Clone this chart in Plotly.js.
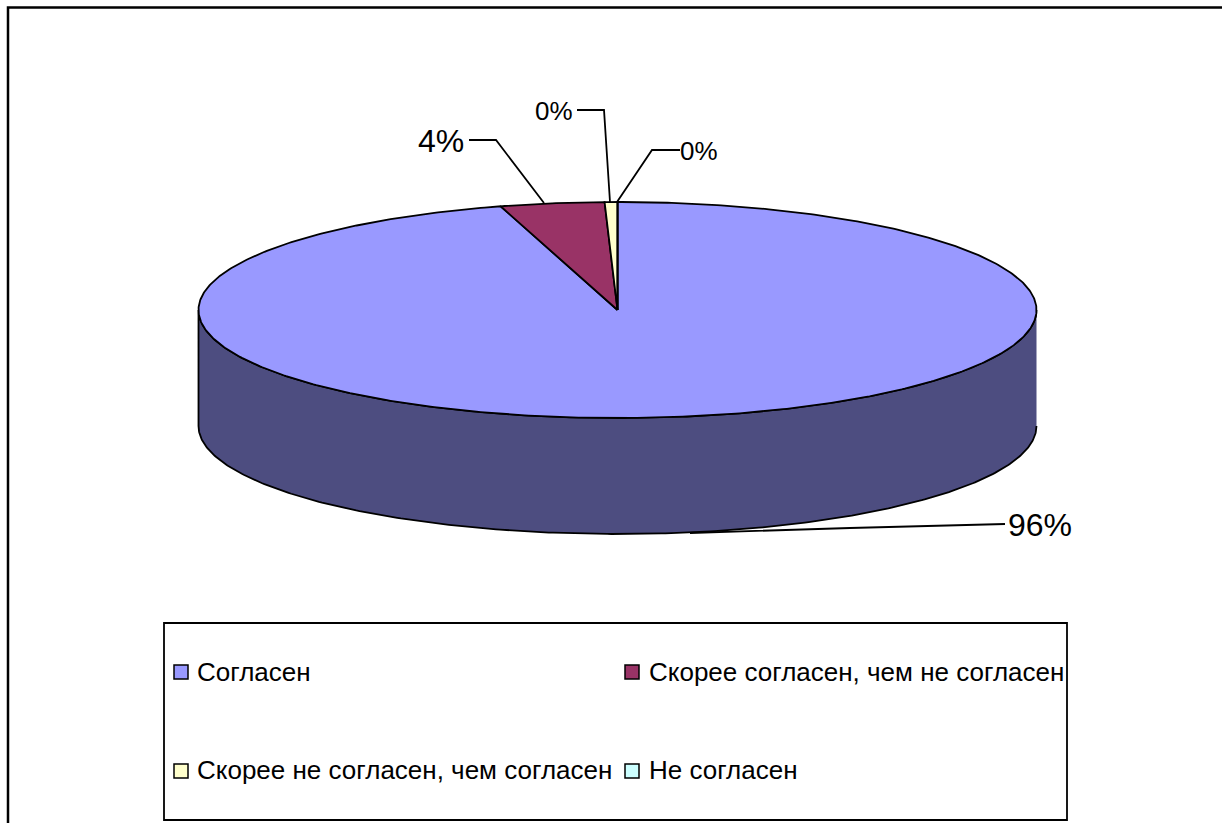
<!DOCTYPE html>
<html>
<head>
<meta charset="utf-8">
<script src="https://cdn.plot.ly/plotly-3.0.1.min.js"></script>
<style>html,body{margin:0;padding:0;background:#fff;overflow:hidden}#chart{width:1222px;height:823px}</style>
</head>
<body>
<div id="chart"></div>
<script>
// Data
const categories = ['Согласен', 'Скорее согласен, чем не согласен', 'Скорее не согласен, чем согласен', 'Не согласен'];
const shares = [95.5, 4.01, 0.49, 0];
const sliceColors = ['#9999FF', '#993366', '#FFFFCC', '#CCFFFF'];
const sideColor = '#4D4D80';

// Geometry of the projected disc
const W = 1222, H = 823;
const cx = 617.5, cy = 310, rx = 419, ry = 108, depth = 116;
const FONT = '"Liberation Sans", Arial, sans-serif';
const total = shares.reduce((a, b) => a + b, 0);
const px = a => cx + rx * Math.sin(a);
const py = (a, dz) => cy - ry * Math.cos(a) + (dz || 0);

// Slices run clockwise from 12 o'clock
const bounds = [0];
shares.forEach(v => bounds.push(bounds[bounds.length - 1] + v / total * 2 * Math.PI));

function arc(a0, a1, dz) {
  const n = Math.max(2, Math.ceil(Math.abs(a1 - a0) / 0.01));
  const xs = [], ys = [];
  for (let i = 0; i <= n; i++) {
    const a = a0 + (a1 - a0) * i / n;
    xs.push(px(a)); ys.push(py(a, dz));
  }
  return [xs, ys];
}

const lineStyle = {color: '#000', width: 1.8, shape: 'linear'};
const traces = [];

// Visible front wall of the first slice
const [frontX, frontY] = arc(Math.PI / 2, 3 * Math.PI / 2, depth);
const [topX, topY] = arc(3 * Math.PI / 2, Math.PI / 2, 0);
traces.push({
  x: frontX.concat(topX), y: frontY.concat(topY), type: 'scatter', mode: 'lines',
  fill: 'toself', fillcolor: sideColor, line: lineStyle, hoverinfo: 'skip', showlegend: false
});

// Top faces
shares.forEach((v, i) => {
  const [ax, ay] = arc(bounds[i], bounds[i + 1], 0);
  traces.push({
    x: [cx].concat(ax, [cx]), y: [cy].concat(ay, [cy]), type: 'scatter', mode: 'lines',
    fill: 'toself', fillcolor: sliceColors[i], line: lineStyle,
    name: categories[i], text: categories[i], hoverinfo: 'text', showlegend: false
  });
});

// Key: swatch and label per category
const keyCols = [181, 632], keyRows = [672, 771], keyTextRows = [672, 770], keyTextCols = [197, 649];
const keyNotes = [];
categories.forEach((c, i) => {
  const col = i % 2, row = Math.floor(i / 2);
  traces.push({
    x: [keyCols[col]], y: [keyRows[row]], type: 'scatter', mode: 'markers',
    marker: {symbol: 'square', size: 14, color: sliceColors[i], line: {color: '#000', width: 1.5}},
    hoverinfo: 'skip', showlegend: false
  });
  keyNotes.push({
    x: keyTextCols[col], y: keyTextRows[row], xref: 'x', yref: 'y', showarrow: false,
    text: c, xanchor: 'left', yanchor: 'middle', xshift: -2,
    font: {family: FONT, size: 26, color: '#000'}
  });
});

// Data labels and their leader lines: placement only; the text comes from the shares
const labelPlaces = [
  {tx: 1040, ty: 525, size: 32, path: 'M 690 533 L 850 528 L 1005 524'},
  {tx: 441, ty: 141, size: 32, path: 'M 469 140 L 496 140 L 544 203'},
  {tx: 554, ty: 111, size: 26, path: 'M 577 110 L 604 110 L 610 202'},
  {tx: 699, ty: 151, size: 26, path: 'M 680 150 L 652 150 L 617 202'}
];
const annotations = labelPlaces.map((p, i) => ({
  x: p.tx, y: p.ty, xref: 'x', yref: 'y', showarrow: false,
  text: Math.round(shares[i]) + '%', xanchor: 'center', yanchor: 'middle',
  font: {family: FONT, size: p.size, color: '#000'}
})).concat(keyNotes);
const shapes = labelPlaces.map(p => ({
  type: 'path', path: p.path, xref: 'x', yref: 'y', line: {color: '#000', width: 1.8}
}));
// Outer chart frame (right and bottom edges lie past the picture) and key frame
shapes.push({type: 'rect', xref: 'x', yref: 'y', x0: 8, y0: 7.5, x1: 1240, y1: 840, line: {color: '#000', width: 2.5}, layer: 'below'});
shapes.push({type: 'rect', xref: 'x', yref: 'y', x0: 164, y0: 623, x1: 1067, y1: 820, line: {color: '#000', width: 1.8}, layer: 'below'});

const hidden = {visible: false, fixedrange: true};
const layout = {
  width: W, height: H, margin: {l: 0, r: 0, t: 0, b: 0},
  paper_bgcolor: '#fff', plot_bgcolor: '#fff', showlegend: false,
  xaxis: Object.assign({range: [0, W]}, hidden),
  yaxis: Object.assign({range: [H, 0]}, hidden),
  annotations, shapes, font: {family: FONT}
};
Plotly.newPlot('chart', traces, layout, {displayModeBar: false, responsive: false});
</script>
</body>
</html>
